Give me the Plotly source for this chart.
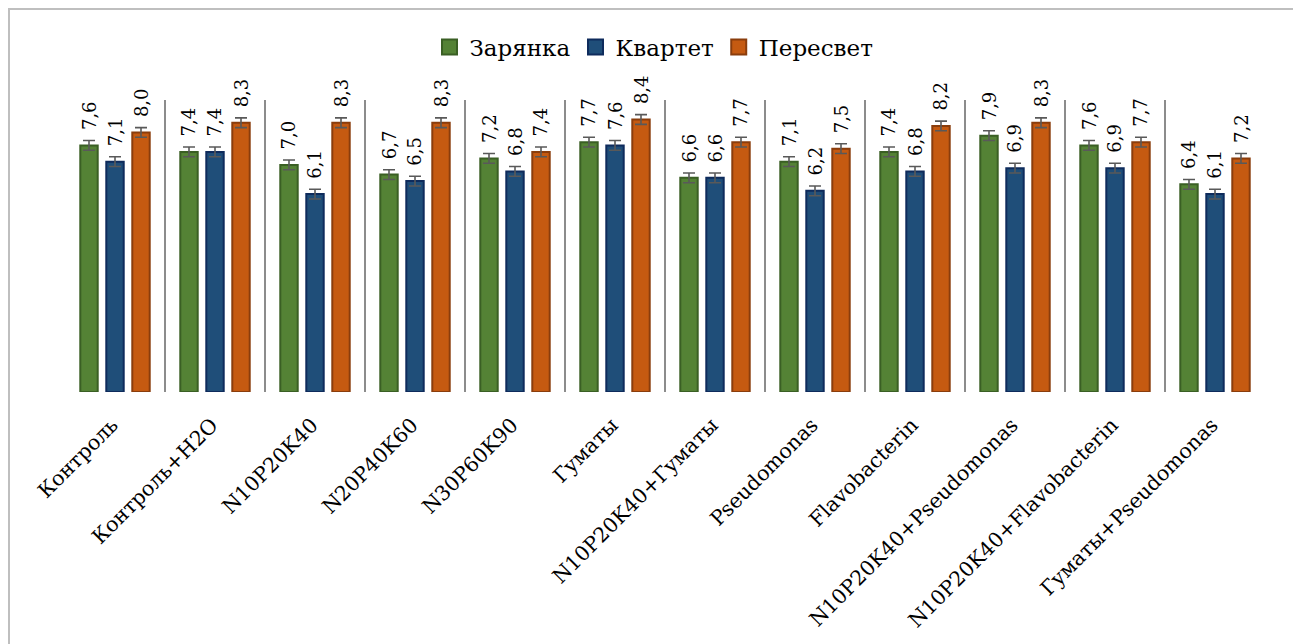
import plotly.graph_objects as go

categories = ["Контроль", "Контроль+H2O", "N10P20K40", "N20P40K60", "N30P60K90", "Гуматы",
              "N10P20K40+Гуматы", "Pseudomonas", "Flavobacterin", "N10P20K40+Pseudomonas",
              "N10P20K40+Flavobacterin", "Гуматы+Pseudomonas"]
series_names = ["Зарянка", "Квартет", "Пересвет"]
zaryanka = [7.6, 7.4, 7.0, 6.7, 7.2, 7.7, 6.6, 7.1, 7.4, 7.9, 7.6, 6.4]
kvartet = [7.1, 7.4, 6.1, 6.5, 6.8, 7.6, 6.6, 6.2, 6.8, 6.9, 6.9, 6.1]
peresvet = [8.0, 8.3, 8.3, 8.3, 7.4, 8.4, 7.7, 7.5, 8.2, 8.3, 7.7, 7.2]
err_zaryanka = [0.15] * 12
err_kvartet = [0.15] * 12
err_peresvet = [0.15] * 12

values = [zaryanka, kvartet, peresvet]
errors = [err_zaryanka, err_kvartet, err_peresvet]
fills = ["#548235", "#1F4E79", "#C55A11"]
borders = ["#3A5F24", "#0E2B5C", "#8A3D0C"]

FONT = "DejaVu Serif"

fig = go.Figure()
for name, vals, errs, fc, bc in zip(series_names, values, errors, fills, borders):
    fig.add_trace(go.Bar(
        x=categories, y=vals, name=name, showlegend=False, legendgroup=name,
        marker=dict(color=fc, line=dict(color=bc, width=2)),
        error_y=dict(type="data", array=errs, visible=True, color="#595959", thickness=1.6, width=6),
    ))
# legend entries (larger square keys)
for name, fc, bc in zip(series_names, fills, borders):
    fig.add_trace(go.Scatter(
        x=[None], y=[None], mode="markers", name=name, legendgroup=name,
        marker=dict(symbol="square", size=15, color=fc, line=dict(color=bc, width=2)),
    ))

# data labels
slot_px = 26
for j, (vals, errs) in enumerate(zip(values, errors)):
    for c, v, e in zip(categories, vals, errs):
        fig.add_annotation(
            x=c, y=v + e, xref="x", yref="y",
            text=f"{v:.1f}".replace(".", ","),
            textangle=-90, showarrow=False,
            xanchor="center", yanchor="bottom",
            xshift=(j - 1) * slot_px, yshift=8,
            font=dict(family=FONT, size=18, color="#000000"),
        )

# page offset (browser body margin) = 8 px
OFF = 8
W, H = 1301 - OFF, 644 - OFF
L, R = 65 - OFF, 1301 - 1265
T, B = 100 - OFF, 644 - 392
pw = W - L - R
ph = H - T - B

def px_x(p):
    return (p - OFF - L) / pw

def px_y(p):
    return (H - B - (p - OFF)) / ph

fig.add_shape(type="rect", xref="paper", yref="paper",
              x0=px_x(9), x1=px_x(1294), y0=px_y(720), y1=px_y(9),
              line=dict(color="#BFBFBF", width=2), fillcolor="rgba(0,0,0,0)", layer="below")
fig.add_shape(type="line", xref="paper", yref="paper",
              x0=px_x(1296.5), x1=px_x(1296.5), y0=px_y(720), y1=px_y(0),
              line=dict(color="#00FF00", width=3))

fig.update_layout(
    width=W, height=H,
    margin=dict(l=L, r=R, t=T, b=B, autoexpand=False),
    paper_bgcolor="white", plot_bgcolor="white",
    barmode="group", bargap=0.22, bargroupgap=0.33,
    showlegend=True,
    legend=dict(orientation="h", x=px_x(654), xanchor="center", y=px_y(47), yanchor="middle",
                font=dict(family=FONT, size=23, color="#000000"),
                itemwidth=30, itemsizing="trace", bgcolor="rgba(0,0,0,0)"),
    font=dict(family=FONT, color="#000000"),
    xaxis=dict(type="category", tickson="boundaries", showgrid=True, gridcolor="#8C8C8C", gridwidth=1.5,
               showline=False, ticks="", tickangle=-45,
               tickfont=dict(family=FONT, size=20.5, color="#000000"),
               ticklabelstandoff=16, ticklabelshift=-3),
    yaxis=dict(range=[0, 9], showgrid=False, showticklabels=False, zeroline=False, showline=False, ticks=""),
)

fig.write_html("out.html")
